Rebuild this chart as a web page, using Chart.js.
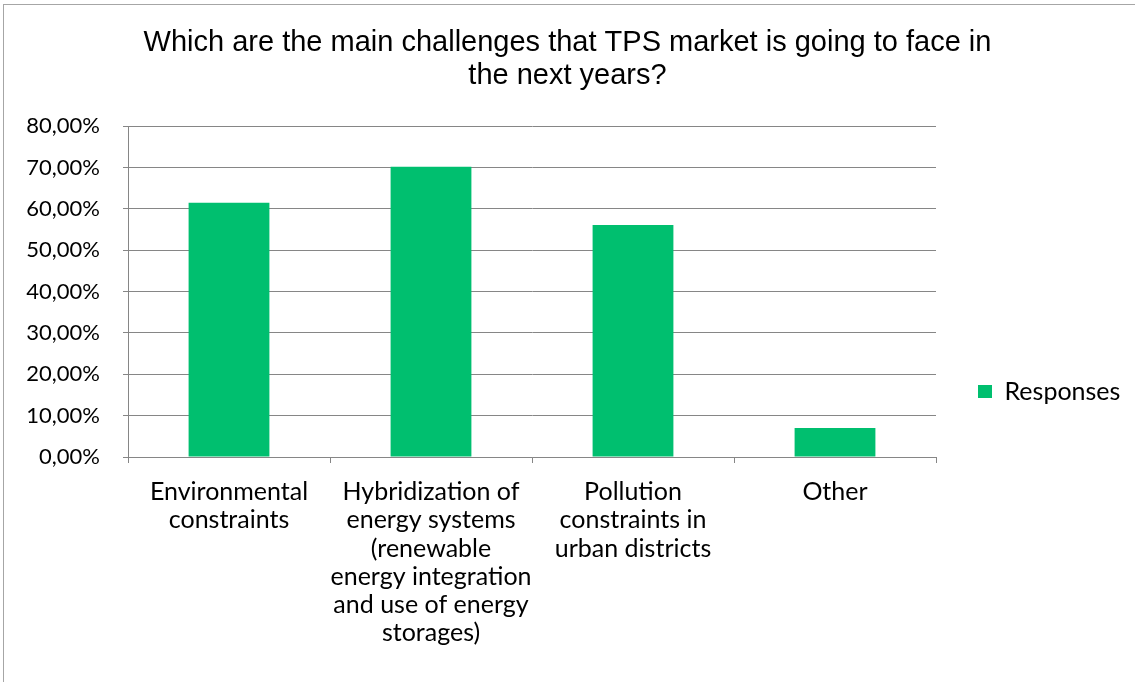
<!DOCTYPE html>
<html>
<head>
<meta charset="utf-8">
<script src="https://cdn.jsdelivr.net/npm/chart.js@4.4.1/dist/chart.umd.min.js"></script>
<style>
  html, body { margin: 0; padding: 0; background: #fff; overflow: hidden; }
  #frame { position: absolute; left: 3px; top: 4px; width: 1200px; height: 720px; border: 1px solid #a6a6a6; }
  #wrap { position: absolute; left: 0; top: 0; width: 1135px; height: 682px; }
</style>
</head>
<body>
<div id="frame"></div>
<div id="wrap"><canvas id="c" width="1135" height="682"></canvas></div>
<script>
const TITLE = ['Which are the main challenges that TPS market is going to face in', 'the next years?'];
const CATEGORIES = [
    ['Environmental', 'constraints'],
    ['Hybridization of', 'energy systems', '(renewable', 'energy integration', 'and use of energy', 'storages)'],
    ['Pollution', 'constraints in', 'urban districts'],
    ['Other']
];
const SERIES_NAME = 'Responses';
const RESPONSES = [61.45, 70.2, 56.1, 7.0];
const Y_TICKS = { min: 0, max: 80, step: 10 };

const GREEN = '#00bf6f';
const AXIS_GREY = '#868686';
const LABEL_FONT = { family: 'Lato', size: 25 };

// pin the plot box and the legend where the original has them
const placeLegend = {
    id: 'placeLegend',
    beforeLayout(chart) {
        const lg = chart.legend;
        if (lg && !lg._pinned) {
            const fit = lg.fit.bind(lg);
            lg.fit = function () { fit(); this.width = 199; };
            lg._pinned = true;
        }
    },
    afterLayout(chart) {
        const lg = chart.legend;
        if (lg) { lg.top = 337; lg.bottom = 460; }
    }
};

new Chart(document.getElementById('c'), {
    type: 'bar',
    data: {
        labels: CATEGORIES,
        datasets: [{
            label: SERIES_NAME,
            data: RESPONSES,
            backgroundColor: GREEN,
            borderWidth: 0,
            barPercentage: 0.4,
            categoryPercentage: 1.0
        }]
    },
    options: {
        responsive: false,
        animation: false,
        layout: { padding: 0 },
        plugins: {
            title: {
                display: true,
                text: TITLE,
                color: '#000',
                font: { family: 'Liberation Sans', size: 29, weight: 'normal', lineHeight: 1.14 },
                padding: { top: 26, bottom: 34 }
            },
            legend: {
                position: 'right',
                align: 'start',
                labels: {
                    boxWidth: 14,
                    boxHeight: 13,
                    padding: 42,
                    color: '#000',
                    font: LABEL_FONT
                }
            },
            tooltip: { enabled: false }
        },
        scales: {
            x: {
                afterFit: s => { s.height = 225; },
                grid: { offset: true, drawOnChartArea: false, tickLength: 6, color: AXIS_GREY },
                border: { color: AXIS_GREY },
                ticks: {
                    color: '#000',
                    padding: 15,
                    maxRotation: 0,
                    autoSkip: false,
                    font: { ...LABEL_FONT, lineHeight: 1.13 }
                }
            },
            y: {
                min: Y_TICKS.min,
                max: Y_TICKS.max,
                afterFit: s => { s.width = 128; },
                grid: { color: AXIS_GREY, tickLength: 5 },
                border: { color: AXIS_GREY },
                ticks: {
                    stepSize: Y_TICKS.step,
                    color: '#000',
                    padding: 23,
                    font: { family: 'Lato', size: 22 },
                    callback: v => v.toFixed(2).replace('.', ',') + '%'
                }
            }
        }
    },
    plugins: [placeLegend]
});
</script>
</body>
</html>
